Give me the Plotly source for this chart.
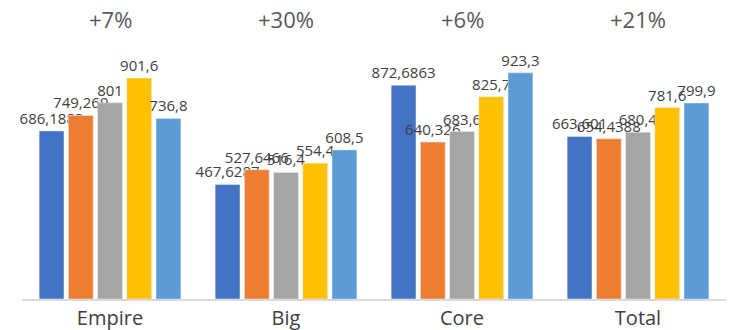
import plotly.graph_objects as go

categories = ["Empire", "Big", "Core", "Total"]
s1 = [686.1883, 467.6287, 872.6863, 663.601]
s2 = [749.269, 527.6466, 640.326, 654.4388]
s3 = [801, 516.4, 683.6, 680.4]
s4 = [901.6, 554.4, 825.7, 781.6]
s5 = [736.8, 608.5, 923.3, 799.9]
growth = ["+7%", "+30%", "+6%", "+21%"]

series = [s1, s2, s3, s4, s5]
colors = ["#4472C4", "#ED7D31", "#A5A5A5", "#FFC000", "#5B9BD5"]

def fmt(v):
    s = ("%g" % v) if v == int(v) else repr(v)
    return s.replace(".", ",")

FONT = "Open Sans"

fig = go.Figure()
for vals, col in zip(series, colors):
    fig.add_trace(go.Bar(
        x=categories, y=vals, marker_color=col,
        text=[fmt(v) for v in vals], textposition="outside",
        textfont=dict(size=15, color="#404040", family=FONT),
        constraintext="none", cliponaxis=False, showlegend=False,
    ))

for cat, g in zip(categories, growth):
    fig.add_annotation(x=cat, y=1.143, xref="x", yref="paper", text=g,
                       showarrow=False, yanchor="middle",
                       font=dict(size=22, color="#595959", family=FONT))

fig.update_layout(
    width=743, height=330, barmode="group", bargap=0.17, bargroupgap=0.15,
    margin=dict(l=22, r=17, t=54, b=31, autoexpand=False),
    plot_bgcolor="white", paper_bgcolor="white",
    font=dict(family=FONT),
    xaxis=dict(showline=True, linecolor="#D9D9D9", linewidth=2, automargin=False,
               tickfont=dict(size=20, color="#404040", family=FONT), ticks=""),
    yaxis=dict(range=[0, 1000], visible=False, showgrid=False, automargin=False),
)
fig.write_html("out.html")
